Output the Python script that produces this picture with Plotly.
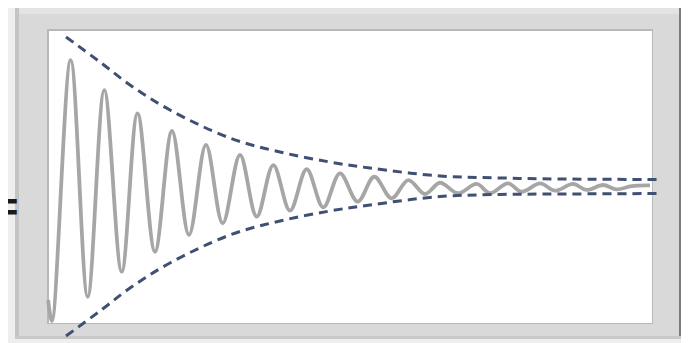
"""
Damped oscillation inside a bevelled frame, with its decay envelope.
"""

import plotly.graph_objects as go

# Oscillation extrema (time, amplitude)
wave_t = [-0.03, 0.10, 0.723, 1.29, 1.843, 2.423, 2.95, 3.533, 4.10, 4.667,
          5.233, 5.79, 6.367, 6.923, 7.477, 8.033, 8.59, 9.143, 9.70, 10.29,
          10.843, 11.423, 11.977, 12.533, 13.033, 13.633, 14.257, 14.70, 15.30,
          15.757, 16.367, 16.867, 17.467, 17.923, 18.467, 18.923, 19.423, 20.033]
wave_a = [-0.757, -0.897, 0.843, -0.735, 0.643, -0.568, 0.488, -0.435, 0.37, -0.323,
          0.277, -0.245, 0.21, -0.201, 0.143, -0.161, 0.115, -0.139, 0.088, -0.101,
          0.065, -0.079, 0.043, -0.05, 0.025, -0.045, 0.017, -0.045, 0.021,
          -0.035, 0.021, -0.028, 0.017, -0.023, 0.01, -0.019, 0.003, 0.007]

# Envelope curves (dashed)
env_t = [0.567, 1.7, 2.7, 4.033, 6.033, 7.7, 9.367, 10.7, 13.033, 15.033, 17.033, 20.3]
env_upper = [0.997, 0.83, 0.677, 0.51, 0.323, 0.23, 0.163, 0.123, 0.07, 0.057, 0.05, 0.047]
env_lower = [-0.997, -0.83, -0.677, -0.51, -0.323, -0.23, -0.163, -0.123, -0.067,
             -0.053, -0.05, -0.047]

# the page body adds an 8px margin, so the figure is drawn that much smaller
OFF = 8
W, H = 689 - OFF, 343 - OFF


def px_rect(x0, y0, x1, y1, color):
    # rectangle given in window pixels, placed in paper coordinates
    return dict(type="rect", xref="paper", yref="paper", layer="below",
                x0=(x0 - OFF) / W, x1=(x1 - OFF) / W,
                y0=1 - (y1 - OFF) / H, y1=1 - (y0 - OFF) / H,
                fillcolor=color, line=dict(width=0))


fig = go.Figure()

fig.add_trace(
    go.Scatter(
        x=wave_t,
        y=wave_a,
        mode="lines",
        line=dict(color="#a6a6a6", width=3.8, shape="spline", smoothing=1.0),
        hoverinfo="skip",
    )
)

for env in (env_upper, env_lower):
    fig.add_trace(
        go.Scatter(
            x=env_t,
            y=env,
            mode="lines",
            line=dict(color="#3f5073", width=3, dash="9px,6px",
                      shape="spline", smoothing=1.0),
            hoverinfo="skip",
        )
    )

shapes = [
    px_rect(15, 5, 684, 339, "#d9d9d9"),      # frame
    px_rect(15, 5, 684, 14, "#e3e3e3"),       # lighter top of frame
    px_rect(15, 5, 19, 339, "#c4c4c4"),       # left edge
    px_rect(679, 5, 684, 339, "#7c7c7c"),     # dark right edge
    px_rect(15, 336, 684, 339, "#c8c8c8"),    # bottom edge
    px_rect(47, 29, 653, 324, "#b8b8b8"),     # bevel round the window
    px_rect(49, 31, 652, 323, "#ffffff"),     # white window
]

fig.update_layout(
    width=W,
    height=H,
    margin=dict(l=0, r=0, t=0, b=0),
    paper_bgcolor="#eeeeee",
    plot_bgcolor="#eeeeee",
    showlegend=False,
    shapes=shapes,
    xaxis=dict(visible=False, range=[-1.3667, 21.3333], fixedrange=True),
    yaxis=dict(visible=False, range=[-1.0433, 1.19], fixedrange=True),
    annotations=[
        dict(text="<b>=</b>", xref="paper", yref="paper",
             x=(20 - OFF) / W, y=1 - (207 - OFF) / H, xanchor="right", yanchor="middle",
             showarrow=False, font=dict(family="Liberation Sans", size=40, color="#1a1a1a")),
    ],
)

fig.write_html("out.html")
